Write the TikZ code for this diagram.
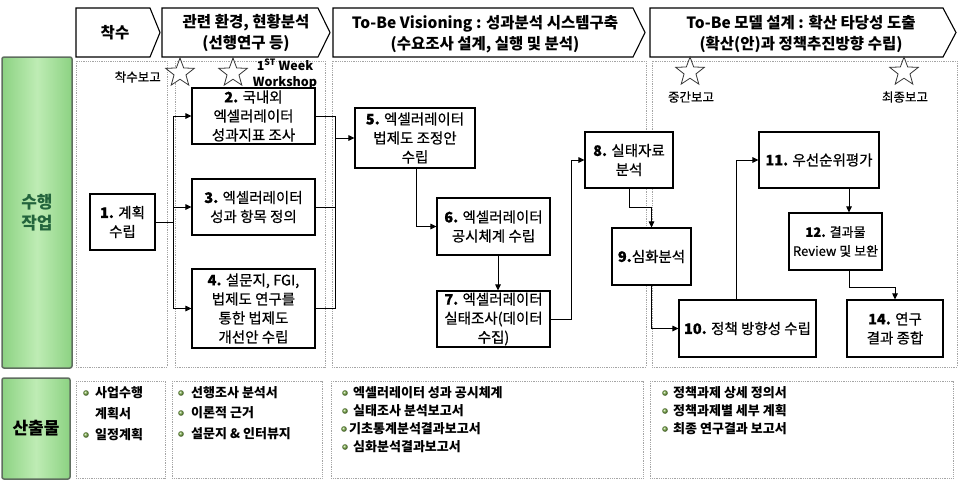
\documentclass[tikz,border=0pt]{standalone}
\usepackage{fontspec}
\setmainfont{Noto Sans CJK KR}
\newfontfamily\medfont{Noto Sans CJK KR}[FakeBold=0.6]
\usetikzlibrary{shapes.geometric,arrows.meta,calc}

\definecolor{frameg}{RGB}{165,165,165}
\definecolor{lgreen}{RGB}{190,236,180}
\definecolor{mgreen}{RGB}{140,210,130}
\definecolor{gborder}{RGB}{95,110,95}
\definecolor{gtext}{RGB}{35,100,60}
\definecolor{bulletg}{RGB}{120,170,70}

\tikzset{
  proc/.style={draw=black, line width=1.1pt, fill=white, align=center, inner sep=0pt,
    font=\medfont\fontsize{14.5}{19}\selectfont},
  arr/.style={line width=1pt, -{Triangle[length=6pt,width=5.5pt]}},
  lin/.style={line width=1pt},
  frame/.style={draw=frameg, densely dotted, line width=0.8pt},
  chev/.style={draw=black, line width=1.1pt, fill=white},
  htext/.style={font=\fontsize{15.5}{21}\selectfont\bfseries, align=center, inner sep=0pt},
  starmark/.style={star, star points=5, star point ratio=2.4, minimum size=30pt,
    inner sep=0pt, draw=black!80, line width=0.8pt, fill=white},
  stext/.style={font=\medfont\fontsize{12.5}{17}\selectfont, align=center, inner sep=0pt},
  outtext/.style={anchor=west, inner sep=0pt, font=\fontsize{13}{15}\selectfont\bfseries},
  gbox/.style={draw=gborder, line width=1.5pt, rounded corners=2pt,
    left color=mgreen, right color=mgreen, middle color=lgreen,
    align=center, inner sep=0pt, font=\fontsize{17}{21}\selectfont\bfseries},
}

\begin{document}
\begin{tikzpicture}[x=1pt,y=-1pt]
\useasboundingbox (0,0) rectangle (960,482);

% header chevrons
\draw[chev] (76,8) -- (150,8) -- (160,32.5) -- (150,57) -- (76,57) -- cycle;
\draw[chev] (162,8) -- (318,8) -- (330,32.5) -- (318,57) -- (162,57) -- cycle;
\draw[chev] (333,8) -- (633,8) -- (645,32.5) -- (633,57) -- (333,57) -- cycle;
\draw[chev] (650,8) -- (943,8) -- (956,32.5) -- (943,57) -- (650,57) -- cycle;
\node[htext] (h1) at (115,32.5) {착수};
\node[htext] (h2) at (246,33) {관련 환경, 현황분석\\(선행연구 등)};
\node[htext] (h3) at (485,34) {To-Be Visioning : 성과분석 시스템구축\\(수요조사 설계, 실행 및 분석)};
\node[htext] (h4) at (801,33.5) {To-Be 모델 설계 : 확산 타당성 도출\\(확산(안)과 정책추진방향 수립)};

% left labels
\node[gbox, minimum width=70pt, minimum height=311pt, text=gtext] (lab1) at (37,212.5) {수행\\작업};
\node[gbox, minimum width=68pt, minimum height=101pt] (lab2) at (36,428.5) {산출물};

% dotted frames
\draw[frame] (76,61) rectangle (167,367);
\draw[frame] (175,61) rectangle (325,367);
\draw[frame] (332,61) rectangle (646,367);
\draw[frame] (652,61) rectangle (957,367);
\draw[frame] (76,381) rectangle (165,478);
\draw[frame] (172,381) rectangle (322,478);
\draw[frame] (331,381) rectangle (643,478);
\draw[frame] (650,381) rectangle (953,478);

% stars and labels
\node[starmark] (st1) at (180,73) {};
\node[starmark] (st2) at (233,73) {};
\node[starmark] (st3) at (690,72) {};
\node[starmark] (st4) at (904,72) {};
\node[stext, anchor=east] (l1) at (161,77) {착수보고};
\node[stext, font=\fontsize{12.5}{16}\selectfont\bfseries] (l2) at (285,74) {1\textsuperscript{ST} Week\\Workshop};
\node[stext] (l3) at (691,97) {중간보고};
\node[stext] (l4) at (905,97) {최종보고};

% process boxes
\node[proc, minimum width=65pt, minimum height=56pt] (b1) at (122.5,222) {\textbf{1.} 계획\\수립};
\node[proc, minimum width=123pt, minimum height=56pt] (b2) at (253.5,116) {\textbf{2.} 국내외\\엑셀러레이터\\성과지표 조사};
\node[proc, minimum width=123pt, minimum height=56pt] (b3) at (253.5,207) {\textbf{3.} 엑셀러레이터\\성과 항목 정의};
\node[proc, minimum width=123pt, minimum height=79pt] (b4) at (253.5,308.5) {\textbf{4.} 설문지, FGI,\\법제도 연구를\\통한 법제도\\개선안 수립};
\node[proc, minimum width=120pt, minimum height=60pt] (b5) at (415,138) {\textbf{5.} 엑셀러레이터\\법제도 조정안\\수립};
\node[proc, minimum width=113pt, minimum height=57pt] (b6) at (493.5,226.5) {\textbf{6.} 엑셀러레이터\\공시체계 수립};
\node[proc, minimum width=113pt, minimum height=56pt] (b7) at (493.5,319) {\textbf{7.} 엑셀러레이터\\실태조사(데이터\\수집)};
\node[proc, minimum width=88pt, minimum height=56pt] (b8) at (629,160) {\textbf{8.} 실태자료\\분석};
\node[proc, minimum width=79pt, minimum height=57pt] (b9) at (651.5,256.5) {\textbf{9.}심화분석};
\node[proc, minimum width=137pt, minimum height=57pt] (b10) at (747.5,328.5) {\textbf{10.} 정책 방향성 수립};
\node[proc, minimum width=120pt, minimum height=56pt] (b11) at (819,160) {\textbf{11.} 우선순위평가};
\node[proc, minimum width=93pt, minimum height=57pt, font=\medfont\fontsize{13}{19}\selectfont] (b12) at (835.5,241.5) {\textbf{12.} 결과물\\Review 및 보완};
\node[proc, minimum width=96pt, minimum height=57pt] (b14) at (895,328.5) {\textbf{14.} 연구\\결과 종합};

% connectors
\coordinate (s1) at (173,222);
\draw[lin] (b1.east) -- (s1);
\draw[lin] (s1 |- b2.west) -- (s1 |- b4.west);
\draw[arr] (s1 |- b2.west) -- (b2.west);
\draw[arr] (s1 |- b3.west) -- (b3.west);
\draw[arr] (s1 |- b4.west) -- (b4.west);

\coordinate (j2) at (335,138);
\draw[lin] (b2.east) -- (b2.east -| j2);
\draw[lin] (b3.east) -- (b3.east -| j2);
\draw[lin] (b4.east) -- (b4.east -| j2);
\draw[lin] (b2.east -| j2) -- (b4.east -| j2);
\draw[arr] (b5.west -| j2) -- (b5.west);

\draw[arr] ([xshift=1pt]b5.south) |- (b6.west);
\draw[arr] ([xshift=4.5pt]b6.south) -- ([xshift=4.5pt]b7.north);
\draw[arr] (b7.east) -- ++(21,0) |- (b8.west);
\draw[arr] (b8.south) -- ++(0,19) -| (b9.north);
\draw[arr] (b9.south) |- (b10.west);
\draw[arr] ([xshift=-11.5pt]b10.north) |- (b11.west);
\draw[arr] ([xshift=30pt]b11.south) -- ([xshift=30pt]b11.south |- b12.north);
\draw[arr] ([xshift=13.5pt]b12.south) -- ++(0,17) -| (b14.north);

% outputs
\foreach \p in {(86,393),(86,435),(181,393),(181,413),(181,434),(345,393),(345,411),(344,429),(345,447),(665,393),(665,411),(665,429)}
  \shade[ball color=bulletg] \p circle (2.8pt);
\node[outtext] (o11) at (95,393) {사업수행};
\node[outtext] (o12) at (95,414) {계획서};
\node[outtext] (o13) at (95,435) {일정계획};
\node[outtext] (o21) at (191,393) {선행조사 분석서};
\node[outtext] (o22) at (191,413) {이론적 근거};
\node[outtext] (o23) at (191,434) {설문지 \& 인터뷰지};
\node[outtext] (o31) at (353,393) {엑셀러레이터 성과 공시체계};
\node[outtext] (o32) at (353,411) {실태조사 분석보고서};
\node[outtext] (o33) at (349,429) {기초통계분석결과보고서};
\node[outtext] (o34) at (353,447) {심화분석결과보고서};
\node[outtext] (o41) at (673,393) {정책과제 상세 정의서};
\node[outtext] (o42) at (673,411) {정책과제별 세부 계획};
\node[outtext] (o43) at (673,429) {최종 연구결과 보고서};
\end{tikzpicture}
\end{document}
